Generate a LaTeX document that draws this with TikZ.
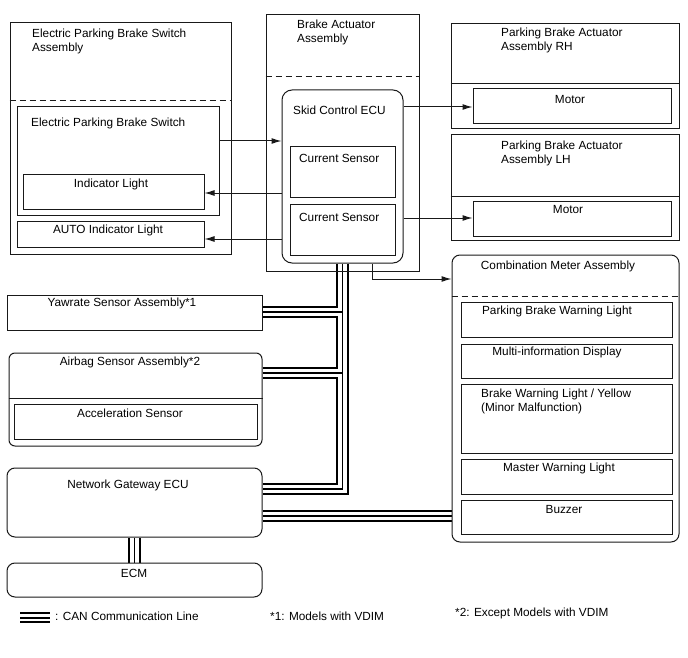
\documentclass[tikz,border=0pt]{standalone}
\usepackage{fontspec}
\setmainfont{Liberation Sans}
\usetikzlibrary{arrows.meta,fit,calc,backgrounds}
\newcommand\mybox[6][]{\node[box,#1,fit={(#3,#4) (#5,#6)}] (#2) {};}
\begin{document}
\begin{tikzpicture}[x=1pt,y=-1pt,
  box/.style={draw=black!90,line width=1pt,inner sep=0pt,rectangle},
  rbox/.style={rounded corners=#1},
  divd/.style={draw=black!90,line width=1pt,dash pattern=on 6pt off 4pt},
  divs/.style={draw=black!90,line width=1pt},
  arr/.style={draw=black!90,line width=1pt,-{Latex[length=10pt,width=6pt]}},
  txt/.style={inner sep=0pt,font=\fontsize{11.8}{14}\selectfont,align=left},
  lg/.style={line width=2pt}]
\useasboundingbox (0,0) rectangle (688,658);

% ---- boxes ----
\mybox{epbA}{10}{23}{231}{254}
\mybox{epb}{17}{107}{219}{215}
\mybox{ind}{23}{174}{204}{209}
\mybox{auto}{17}{221}{204}{247}
\mybox{baa}{266}{15}{419}{271}
\mybox[rbox=10pt]{ecu}{282}{90}{403}{263}
\mybox{cs1}{290}{147}{395}{197}
\mybox{cs2}{290}{204}{395}{255}
\mybox{rh}{451}{24}{679}{129}
\mybox{mrh}{473}{89}{671}{124}
\mybox{lh}{451}{135}{679}{240}
\mybox{mlh}{473}{201}{671}{236}
\mybox[rbox=8pt]{cm}{452}{255}{679}{542}
\mybox{pbw}{461}{302}{672}{337}
\mybox{mid}{461}{344}{672}{378}
\mybox{bwl}{461}{384}{672}{453}
\mybox{mwl}{461}{459}{672}{494}
\mybox{buz}{461}{500}{672}{534}
\mybox{ys}{7}{295}{262}{330}
\mybox[rbox=6pt]{ab}{9}{353}{262}{446}
\mybox{acc}{14}{404}{257}{439}
\mybox[rbox=8pt]{gw}{7}{468}{262}{537}
\mybox[rbox=8pt]{ecm}{7}{563}{262}{597}

% ---- CAN bus (drawn in three layers, behind boxes) ----
\begin{scope}[on background layer]
\foreach \lw/\col in {12.5/black,8.5/white,1.1/black}{
  \draw[line width=\lw pt,\col,line join=miter]
    (ecu.south) -- (ecu.south |- 0,489) -- (gw.east |- 0,489);
  \draw[line width=\lw pt,\col,line join=miter]
    (ys.east |- 0,312) -- (ecu.south |- 0,312);
  \draw[line width=\lw pt,\col,line join=miter]
    (ab.east |- 0,373) -- (ecu.south |- 0,373);
  \draw[line width=\lw pt,\col,line join=miter]
    (gw.east |- 0,516) -- (cm.west |- 0,516);
  \draw[line width=\lw pt,\col,line join=miter]
    (gw.south) -- (ecm.north);
}
\end{scope}

% ---- dividers ----
\draw[divd] (epbA.west |- 0,101) -- (epbA.east |- 0,101);
\draw[divd] (baa.west |- 0,77) -- (baa.east |- 0,77);
\draw[divs] (rh.west |- 0,84) -- (rh.east |- 0,84);
\draw[divs] (lh.west |- 0,196) -- (lh.east |- 0,196);
\draw[divd] (cm.west |- 0,296) -- (cm.east |- 0,296);
\draw[divs] (ab.west |- 0,398) -- (ab.east |- 0,398);

% ---- arrows ----
\draw[arr] (epb.east |- 0,141) -- (ecu.west |- 0,141);
\draw[arr] (ecu.west |- 0,193) -- (ind.east |- 0,193);
\draw[arr] (ecu.west |- 0,239) -- (auto.east |- 0,239);
\draw[arr] (ecu.east |- 0,107) -- (mrh.west |- 0,107);
\draw[arr] (ecu.east |- 0,218) -- (mlh.west |- 0,218);
\draw[arr] (ecu.south -| 372,0) |- (cm.west |- 0,279);

% ---- texts ----
\node[txt,anchor=west] (t1) at (32,41) {Electric Parking Brake Switch\\Assembly};
\node[txt,anchor=west] (t2) at (31,123) {Electric Parking Brake Switch};
\node[txt] (t3) at (111,184) {Indicator Light};
\node[txt] (t4) at (108,230) {AUTO Indicator Light};
\node[txt,anchor=west] (t5) at (297,32) {Brake Actuator\\Assembly};
\node[txt,anchor=west] (t6) at (293,110) {Skid Control ECU};
\node[txt,anchor=west] (t7) at (299,158) {Current Sensor};
\node[txt,anchor=west] (t8) at (299,217) {Current Sensor};
\node[txt,anchor=west] (t9) at (501,40) {Parking Brake Actuator\\Assembly RH};
\node[txt] (t10) at (570,99) {Motor};
\node[txt,anchor=west] (t11) at (501,153) {Parking Brake Actuator\\Assembly LH};
\node[txt] (t12) at (568,209) {Motor};
\node[txt] (t13) at (558,266) {Combination Meter Assembly};
\node[txt] (t14) at (557,311) {Parking Brake Warning Light};
\node[txt] (t15) at (557,352) {Multi-information Display};
\node[txt,anchor=west] (t16) at (481,401) {Brake Warning Light / Yellow\\(Minor Malfunction)};
\node[txt] (t17) at (559,468) {Master Warning Light};
\node[txt] (t18) at (564,509) {Buzzer};
\node[txt] (t19) at (122,303) {Yawrate Sensor Assembly*1};
\node[txt] (t20) at (130,362) {Airbag Sensor Assembly*2};
\node[txt] (t21) at (130,413) {Acceleration Sensor};
\node[txt] (t22) at (128,485) {Network Gateway ECU};
\node[txt] (t23) at (134,573) {ECM};

% ---- legend ----
\draw[lg] (20,613) -- (50,613);
\draw[lg] (20,617.5) -- (50,617.5);
\draw[lg] (20,622) -- (50,622);
\node[txt,anchor=west] (l1) at (55,616) {: CAN Communication Line};
\node[txt,anchor=west] (l2) at (270,616) {*1: Models with VDIM};
\node[txt,anchor=west] (l3) at (455,613) {*2: Except Models with VDIM};
\end{tikzpicture}
\end{document}
